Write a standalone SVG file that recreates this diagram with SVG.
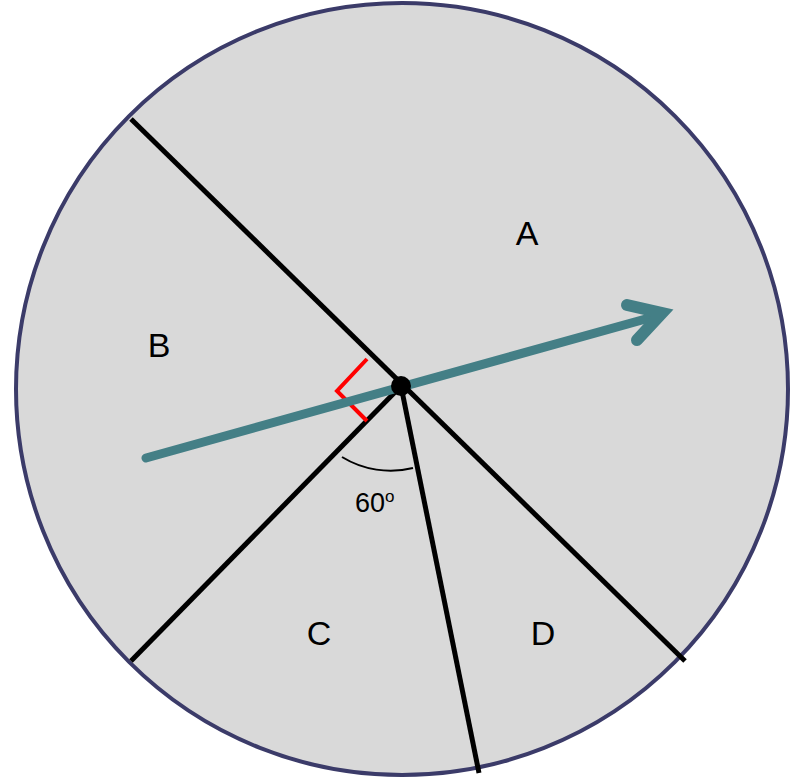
<svg xmlns="http://www.w3.org/2000/svg" width="790" height="778" viewBox="0 0 790 778">
<style>
.lbl{font-family:"Liberation Sans",Arial,sans-serif;font-size:34px;fill:#000;text-anchor:middle}
.seg{stroke:#000;stroke-width:5;fill:none}
</style>
<rect width="790" height="778" fill="#fff"/>
<g id="circle">
<circle cx="402" cy="389" r="386" fill="#d9d9d9" stroke="#3b3b69" stroke-width="4"/>
</g>
<g id="connectors">
<line class="seg" x1="131" y1="119" x2="685" y2="661"/>
<line class="seg" x1="131" y1="661" x2="401" y2="386"/>
<line class="seg" x1="401" y1="386" x2="479" y2="773"/>
<path d="M342,457 A93,93 0 0 0 413,468" fill="none" stroke="#000" stroke-width="2"/>
<polyline points="367,359 337,391 367,421" fill="none" stroke="#ff0000" stroke-width="4"/>
<g stroke="#447f86" stroke-linecap="round" fill="none">
<line x1="146" y1="458" x2="660" y2="315" stroke-width="9"/>
<polyline points="627,305 662,313 637,340" stroke-width="12" stroke-linejoin="miter" stroke-miterlimit="10"/>
</g>
<circle cx="401" cy="386" r="10" fill="#000"/>
</g>
<g id="A"><text class="lbl" x="527" y="245">A</text></g>
<g id="B"><text class="lbl" x="159" y="357">B</text></g>
<g id="C"><text class="lbl" x="319" y="645">C</text></g>
<g id="D"><text class="lbl" x="543" y="645">D</text></g>
<g id="angle"><text font-family="Liberation Sans,Arial,sans-serif" font-size="27" x="355" y="512">60<tspan font-size="17" dy="-10">o</tspan></text></g>
</svg>
